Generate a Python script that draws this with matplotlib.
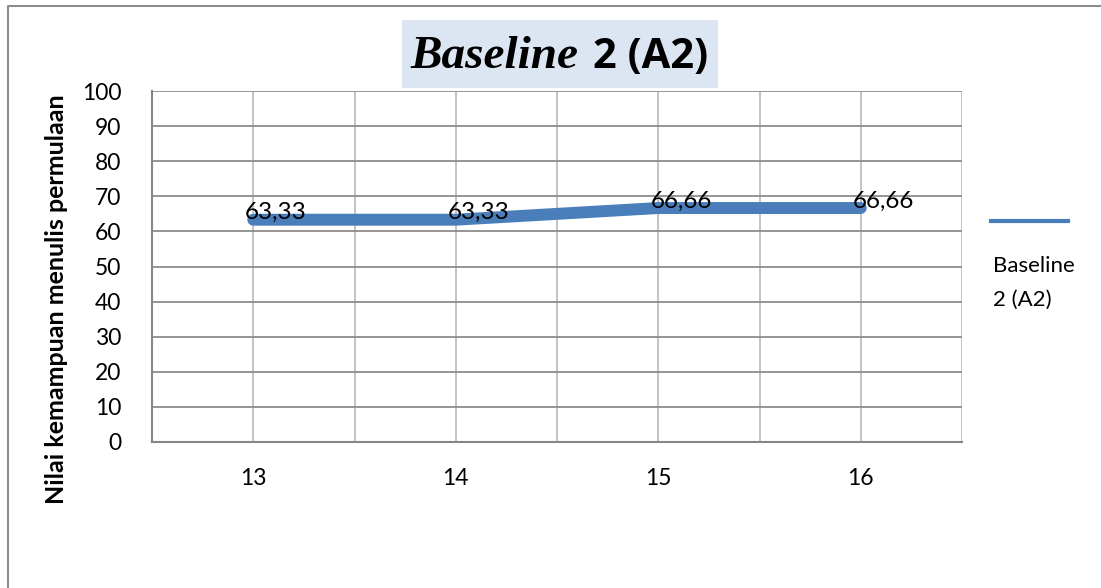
import numpy as np
import matplotlib.pyplot as plt
from matplotlib.patches import Rectangle

# sessions and scores for baseline 2 (A2)
sessions = [13, 14, 15, 16]
scores = [63.33, 63.33, 66.66, 66.66]
score_labels = ['63,33', '63,33', '66,66', '66,66']
y_ticks = [0, 10, 20, 30, 40, 50, 60, 70, 80, 90, 100]

LINE_COLOR = '#4a7ebb'
GRID_COLOR = '#bfbfbf'
plt.rcParams['font.family'] = ['Lato', 'DejaVu Sans']

fig = plt.figure(figsize=(11.01, 5.88), dpi=100)
W, H = 1101, 588
ax = fig.add_axes([152 / W, 1 - 442 / H, (962 - 152) / W, (442 - 91) / H])

ax.plot(sessions, scores, color=LINE_COLOR, lw=8.6, solid_capstyle='round',
        solid_joinstyle='round', zorder=3)
for x, y, s in zip(sessions, scores, score_labels):
    ax.annotate(s, (x, y), xytext=(-8, 7), textcoords='offset pixels',
                ha='left', va='center', fontsize=17.5, color='black', zorder=4)

ax.set_xlim(12.5, 16.5)
ax.set_ylim(0, 100)
ax.set_xticks(sessions)
ax.set_xticks(np.arange(12.5, 16.6, 0.5), minor=True)
ax.set_yticks(y_ticks)
ax.tick_params(axis='both', which='both', length=0, labelsize=16.5)
ax.tick_params(axis='x', pad=19)
ax.tick_params(axis='y', pad=22)
ax.grid(True, which='minor', axis='x', color=GRID_COLOR, lw=1.3)
ax.grid(True, which='major', axis='x', color=GRID_COLOR, lw=1.3)
ax.grid(True, which='major', axis='y', color='#8c8c8c', lw=1.3)
ax.set_axisbelow(True)
for side in ['top', 'right']:
    ax.spines[side].set_visible(False)
for side in ['left', 'bottom']:
    ax.spines[side].set_color('#868686')
    ax.spines[side].set_linewidth(1.5)

fig.text(57 / W, 1 - 299 / H, 'Nilai kemampuan menulis permulaan', rotation=90,
         ha='center', va='center', fontsize=18, fontweight='bold')

# title with shaded box
fig.patches.append(Rectangle((402 / W, 1 - 88 / H), (718 - 402) / W, (88 - 20) / H,
                             transform=fig.transFigure, facecolor='#dce6f2',
                             edgecolor='none', zorder=0))
fig.text(410 / W, 1 - 57 / H, 'Baseline', ha='left', va='center', fontsize=34,
         fontweight='bold', fontstyle='italic', family='Liberation Serif')
fig.text(593 / W, 1 - 57 / H, '2 (A2)', ha='left', va='center', fontsize=30,
         fontweight='bold', family=['Open Sans', 'DejaVu Sans'])

# legend drawn by hand to the right of the plot
fig.add_artist(plt.Line2D([991 / W, 1068 / W], [1 - 221 / H, 1 - 221 / H],
                          color=LINE_COLOR, lw=3, transform=fig.transFigure))
fig.text(993 / W, 1 - 266 / H, 'Baseline', ha='left', va='center', fontsize=16)
fig.text(993 / W, 1 - 300 / H, '2 (A2)', ha='left', va='center', fontsize=16)

# outer chart border
fig.add_artist(plt.Line2D([8 / W, 8 / W, 1.0], [0.0, 1 - 6 / H, 1 - 6 / H],
                          color='#8c8c8c', lw=1.5, transform=fig.transFigure))

fig.savefig('out.png', dpi=100)
